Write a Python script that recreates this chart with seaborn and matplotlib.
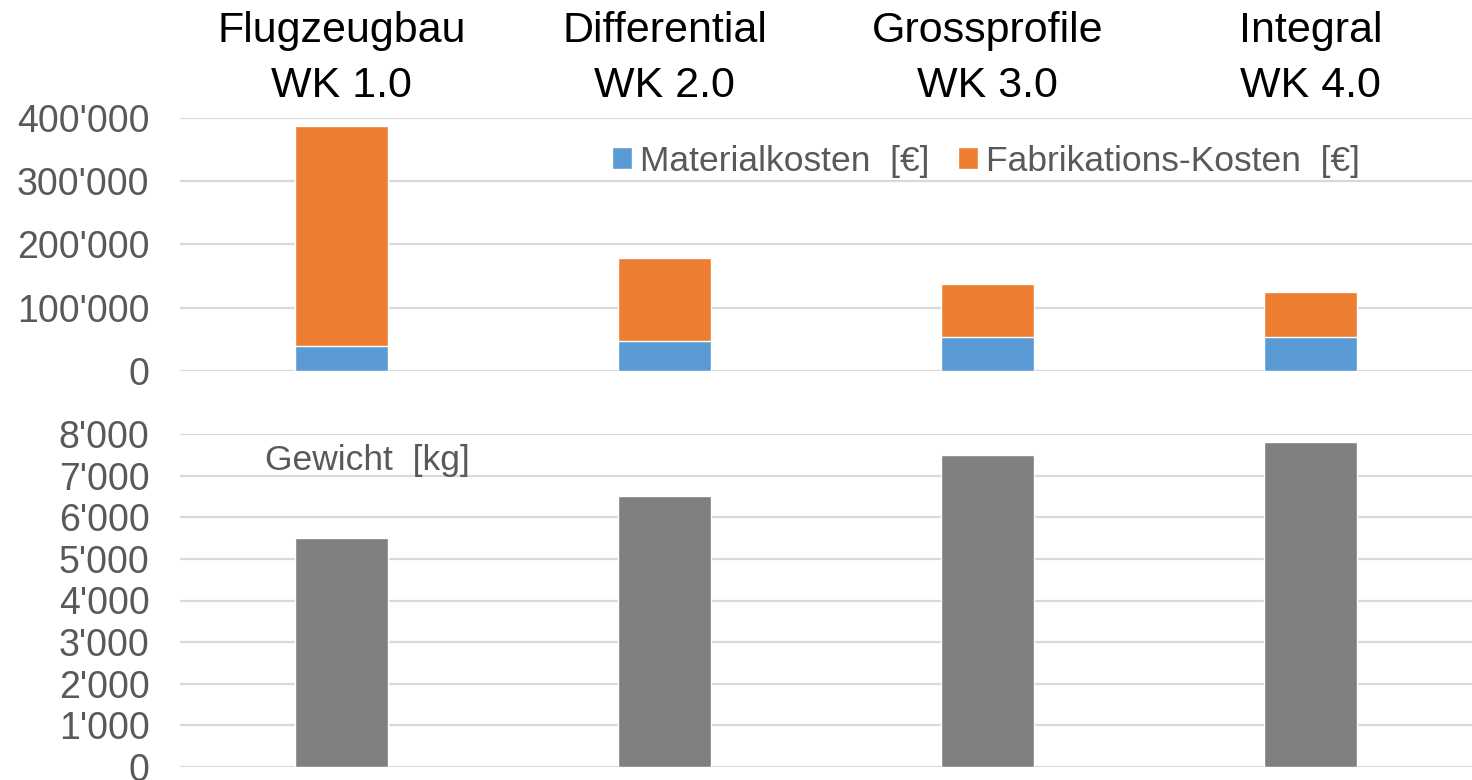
import matplotlib
matplotlib.use("Agg")
import matplotlib.pyplot as plt
from matplotlib.patches import Patch
from matplotlib.ticker import FuncFormatter
import pandas as pd
import seaborn as sns

# Bauweisen (Wertschöpfungsketten)
categories = ["Flugzeugbau\nWK 1.0", "Differential\nWK 2.0", "Grossprofile\nWK 3.0", "Integral\nWK 4.0"]
materialkosten = [40000, 47000, 54000, 54000]
fabrikationskosten = [347000, 132000, 84000, 71000]
gewicht = [5500, 6500, 7500, 7800]

top_ticks = [0, 100000, 200000, 300000, 400000]
bottom_ticks = [0, 1000, 2000, 3000, 4000, 5000, 6000, 7000, 8000]

BLUE = "#5b9bd5"
ORANGE = "#ed7d31"
GREY_BAR = "#808080"
TEXT = "#595959"
GRID = "#d9d9d9"

sns.set_theme(style="white")
plt.rcParams["font.family"] = ["Liberation Sans", "DejaVu Sans"]

df = pd.DataFrame({
    "Bauweise": categories,
    "Material": materialkosten,
    "Fabrikation": fabrikationskosten,
    "Gewicht": gewicht,
})
df["Gesamt"] = df["Material"] + df["Fabrikation"]

fig = plt.figure(figsize=(14.72, 7.8), dpi=100)
ax_top = fig.add_axes([180 / 1472, 1 - 371 / 780, 1292 / 1472, 253 / 780])
ax_bot = fig.add_axes([180 / 1472, 1 - 767 / 780, 1292 / 1472, 333 / 780])

bar_w = 0.285

# Kosten: gestapelte Balken (Gesamt hinten, Material vorne)
sns.barplot(data=df, x="Bauweise", y="Gesamt", color=ORANGE, width=bar_w,
            saturation=1, ax=ax_top, zorder=2)
sns.barplot(data=df, x="Bauweise", y="Material", color=BLUE, width=bar_w,
            saturation=1, ax=ax_top, zorder=3)

# Gewicht
sns.barplot(data=df, x="Bauweise", y="Gewicht", color=GREY_BAR, width=bar_w,
            saturation=1, ax=ax_bot, zorder=2)

fmt = FuncFormatter(lambda v, _: f"{int(v):,}".replace(",", "'"))

for ax, ticks in ((ax_top, top_ticks), (ax_bot, bottom_ticks)):
    ax.set_xlim(-0.5, 3.5)
    ax.set_ylim(ticks[0], ticks[-1])
    ax.set_yticks(ticks)
    ax.yaxis.set_major_formatter(fmt)
    ax.grid(axis="y", color=GRID, linewidth=1.6, zorder=0)
    ax.set_axisbelow(True)
    for s in ax.spines.values():
        s.set_visible(False)
    ax.set_xlabel("")
    ax.set_ylabel("")
    ax.tick_params(axis="y", length=0, pad=22, labelsize=27, labelcolor=TEXT)
    for lbl in ax.get_yticklabels():
        lbl.set_clip_on(False)

# Kategorien oben über dem Kostenpanel
ax_top.xaxis.tick_top()
ax_top.set_xticks(range(len(categories)))
ax_top.set_xticklabels(categories, fontsize=31, color="black", linespacing=1.5)
ax_top.tick_params(axis="x", length=0, pad=8.5)
ax_bot.set_xticks([])

ax_top.legend(
    handles=[Patch(facecolor=BLUE, label="Materialkosten  [€]"),
             Patch(facecolor=ORANGE, label="Fabrikations-Kosten  [€]")],
    loc="center", bbox_to_anchor=(0.624, 0.83), ncol=2, frameon=False,
    fontsize=25.5, labelcolor=TEXT, handlelength=0.55, handleheight=0.55,
    handletextpad=0.25, columnspacing=0.8, borderaxespad=0,
)

ax_bot.text(0.066, 0.92, "Gewicht  [kg]", transform=ax_bot.transAxes,
            fontsize=25.5, color=TEXT, va="center", ha="left")

fig.savefig("out.png", dpi=100)
